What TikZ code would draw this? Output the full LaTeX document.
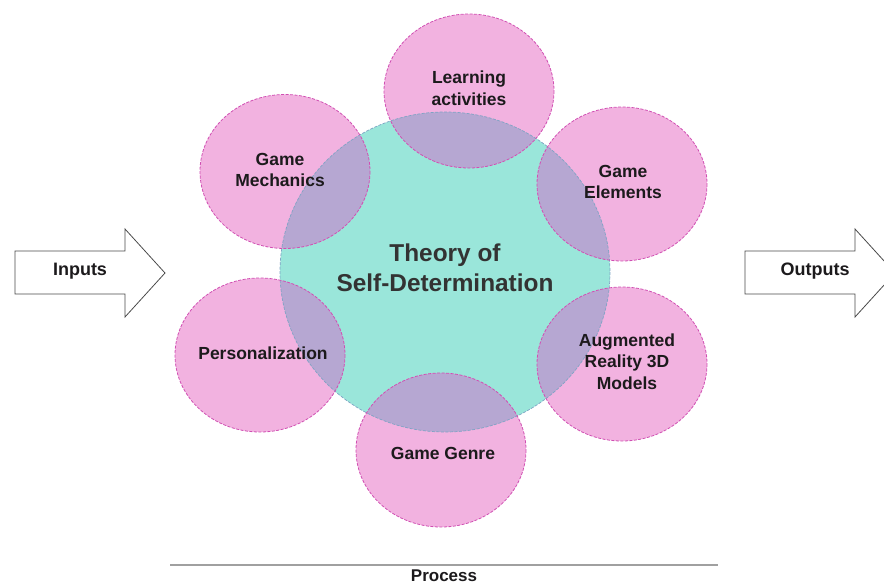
\documentclass[tikz,border=0pt]{standalone}
\usepackage{fontspec}
\setmainfont{Liberation Sans}
\usetikzlibrary{shapes.geometric}

\definecolor{petal}{HTML}{F2B2E0}
\definecolor{petaledge}{HTML}{D04FB2}
\definecolor{core}{HTML}{9AE6DA}
\definecolor{coreedge}{HTML}{7FA3C4}
\definecolor{overlap}{HTML}{B6A7D2}
\definecolor{labelink}{HTML}{1C1A1C}
\definecolor{coreink}{HTML}{333333}
\definecolor{arrowedge}{HTML}{4A4A4A}
\definecolor{ruleline}{HTML}{A0A0A0}

\tikzset{
  petaldisc/.style={ellipse, inner sep=0pt, minimum width=170pt, minimum height=154pt, fill=petal},
  coredisc/.style={ellipse, inner sep=0pt, minimum width=330pt, minimum height=320pt, fill=core},
  petalrim/.style={draw=petaledge, line width=0.8pt, dash pattern=on 3pt off 1.5pt},
  corerim/.style={draw=coreedge, line width=0.7pt, dash pattern=on 3pt off 1.5pt},
  petaltext/.style={align=center, text=labelink, font=\bfseries\fontsize{17.5}{21.5}\selectfont, inner sep=0pt},
  coretext/.style={align=center, text=coreink, font=\bfseries\fontsize{24.4}{30}\selectfont, inner sep=0pt},
  arrowtext/.style={text=labelink, font=\bfseries\fontsize{18}{21}\selectfont, inner sep=0pt},
  blockarrow/.style={draw=arrowedge, fill=white, line width=0.8pt, line join=miter},
}

\begin{document}
\begin{tikzpicture}[x=1pt, y=-1pt]
  \useasboundingbox (0,0) rectangle (884,585);
  \clip (0,0) rectangle (884,585);

  % discs
  \node[coredisc] (core) at (445,272) {};
  \node[petaldisc] (learn) at (469,91) {};
  \node[petaldisc] (mech) at (285,171.5) {};
  \node[petaldisc] (elem) at (622,184) {};
  \node[petaldisc] (pers) at (260,355) {};
  \node[petaldisc] (ar) at (622,364) {};
  \node[petaldisc] (genre) at (441,450) {};

  % lens-shaped overlaps of each petal with the core
  \begin{scope}
    \clip (core.center) ellipse [x radius=165, y radius=160];
    \foreach \p in {learn, mech, elem, pers, ar, genre}
      \fill[overlap] (\p.center) ellipse [x radius=85, y radius=77];
  \end{scope}

  % dashed rims
  \draw[corerim] (core.center) ellipse [x radius=165, y radius=160];
  \foreach \p in {learn, mech, elem, pers, ar, genre}
    \draw[petalrim] (\p.center) ellipse [x radius=85, y radius=77];

  % labels
  \node[coretext] (coreLabel) at (445,268) {Theory of\\Self-Determination};
  \node[petaltext] (learnLabel) at (469,88) {Learning\\activities};
  \node[petaltext] (mechLabel) at (280,170) {Game\\Mechanics};
  \node[petaltext] (elemLabel) at (623,182) {Game\\Elements};
  \node[petaltext] (persLabel) at (263,353) {Personalization};
  \node[petaltext] (arLabel) at (627,361.5) {Augmented\\Reality 3D\\Models};
  \node[petaltext] (genreLabel) at (443,453) {Game Genre};

  % block arrows
  \draw[blockarrow] (15,251) -- (125,251) -- (125,229) -- (165,273)
    -- (125,317) -- (125,294) -- (15,294) -- cycle;
  \node[arrowtext] (inLabel) at (80,271) {Inputs};

  \draw[blockarrow] (745,251) -- (855,251) -- (855,229) -- (895,273)
    -- (855,317) -- (855,294) -- (745,294) -- cycle;
  \node[arrowtext] (outLabel) at (815,271) {Outputs};

  % process rule
  \coordinate (ruleL) at (170,565);
  \coordinate (ruleR) at (718,565);
  \draw[ruleline, line width=1.4pt] (ruleL) -- (ruleR);
  \node[arrowtext, font=\bfseries\fontsize{17}{20}\selectfont] (procLabel) at (444,576) {Process};
\end{tikzpicture}
\end{document}
